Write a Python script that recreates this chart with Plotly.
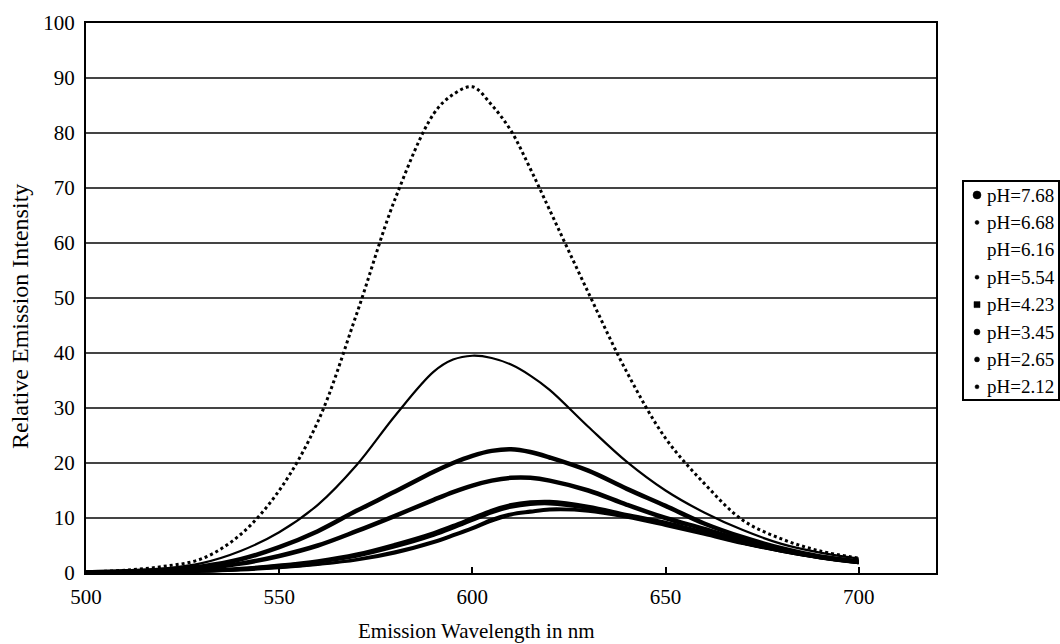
import plotly.graph_objects as go

wavelength = [500, 510, 520, 530, 540, 550, 560, 570, 580, 590, 595, 600,
              605, 610, 615, 620, 630, 640, 650, 660, 670, 680, 690, 700]

ph_labels = ["pH=7.68", "pH=6.68", "pH=6.16", "pH=5.54",
             "pH=4.23", "pH=3.45", "pH=2.65", "pH=2.12"]

ph_7_68 = [0.05, 0.1, 0.2, 0.3, 0.6, 1.0, 1.6, 2.5, 3.9, 5.8, 7.0, 8.3,
           9.8, 10.8, 11.3, 11.7, 11.4, 10.3, 8.8, 7.2, 5.4, 4.0, 2.8, 1.9]
ph_6_68 = [0.05, 0.1, 0.15, 0.3, 0.5, 0.9, 1.5, 2.3, 3.6, 5.5, 6.7, 8.0,
           9.4, 10.5, 11.0, 11.4, 11.2, 10.1, 8.6, 7.0, 5.3, 3.9, 2.7, 1.8]
ph_6_16 = [0.05, 0.1, 0.2, 0.35, 0.7, 1.3, 2.0, 3.1, 4.8, 6.9, 8.2, 9.6,
           11.0, 12.0, 12.5, 12.6, 11.8, 10.4, 9.0, 7.3, 5.5, 4.0, 2.8, 1.9]
ph_5_54 = [0.05, 0.1, 0.2, 0.4, 0.8, 1.4, 2.2, 3.4, 5.2, 7.3, 8.6, 10.0,
           11.4, 12.4, 12.9, 13.0, 12.1, 10.6, 9.2, 7.4, 5.6, 4.1, 2.9, 2.0]
ph_4_23 = [0.1, 0.2, 0.4, 0.8, 1.7, 3.1, 5.0, 7.6, 10.4, 13.3, 14.7, 15.9,
           16.8, 17.3, 17.3, 16.8, 15.0, 12.4, 10.0, 8.0, 5.9, 4.2, 2.9, 2.0]
ph_3_45 = [0.1, 0.3, 0.6, 1.2, 2.5, 4.7, 7.6, 11.3, 14.8, 18.4, 20.0, 21.3,
           22.2, 22.5, 22.0, 21.0, 18.6, 15.3, 12.2, 9.0, 6.5, 4.5, 3.0, 2.1]
ph_2_65 = [0.2, 0.4, 0.8, 1.8, 4.0, 7.4, 12.4, 19.6, 28.6, 36.6, 38.8, 39.5,
           39.1, 37.9, 35.9, 33.3, 26.6, 20.2, 15.0, 11.0, 7.8, 5.3, 3.7, 2.6]
ph_2_12 = [0.2, 0.5, 1.2, 2.6, 7.0, 15.0, 27.5, 47.0, 68.0, 83.5, 87.0, 88.4,
           85.1, 80.4, 73.5, 66.0, 51.0, 36.5, 24.5, 16.3, 9.6, 6.2, 4.0, 2.7]

series = [ph_7_68, ph_6_68, ph_6_16, ph_5_54, ph_4_23, ph_3_45, ph_2_65, ph_2_12]
line_widths = [2.5, 2.5, 3.5, 3.5, 4.5, 4.5, 2.2, 3.0]
line_dash = ["solid"] * 7 + ["dot"]
# legend marker sizes (diameter in px); 0 = no visible marker
legend_marker_size = [8, 4, 0, 4, 6, 6, 5, 4]
legend_marker_kind = ["circle", "circle", "circle", "circle", "rect", "circle", "circle", "circle"]

FONT = "Liberation Serif, Times New Roman, serif"

# plot area in pixels
W, H = 1060, 644
PL, PR, PT, PB = 86, 936, 23, 573


def px_x(px):
    return (px - PL) / (PR - PL)


def px_y(py):
    return (PB - py) / (PB - PT)


fig = go.Figure()
for i, ys in enumerate(series):
    fig.add_trace(go.Scatter(
        x=wavelength, y=ys, mode="lines", name=ph_labels[i],
        line=dict(color="black", width=line_widths[i], dash=line_dash[i], shape="spline"),
        showlegend=False, hoverinfo="skip"))

shapes = []
annotations = []
# legend box
shapes.append(dict(type="rect", xref="paper", yref="paper",
                   x0=px_x(963), x1=px_x(1059), y0=px_y(181), y1=px_y(400),
                   line=dict(color="black", width=2), fillcolor="white", layer="above"))
for i, lab in enumerate(ph_labels):
    cy = 195 + i * 27.4
    s = legend_marker_size[i]
    if s > 0:
        shapes.append(dict(type=legend_marker_kind[i], xref="paper", yref="paper",
                           x0=px_x(977 - s / 2), x1=px_x(977 + s / 2),
                           y0=px_y(cy + s / 2), y1=px_y(cy - s / 2),
                           line=dict(color="black", width=0.5), fillcolor="black",
                           layer="above"))
    annotations.append(dict(text=lab, xref="paper", yref="paper", x=px_x(985), y=px_y(cy),
                            xanchor="left", yanchor="middle", showarrow=False,
                            font=dict(family=FONT, size=19, color="black")))

annotations.append(dict(text="Emission Wavelength in nm", x=601, xref="x",
                        y=px_y(631), yref="paper", xanchor="center", yanchor="middle",
                        showarrow=False, font=dict(family=FONT, size=21, color="black")))
annotations.append(dict(text="Relative Emission Intensity", x=px_x(20), xref="paper",
                        y=px_y(317), yref="paper", xanchor="center", yanchor="middle",
                        textangle=-90, showarrow=False,
                        font=dict(family=FONT, size=24, color="black")))

fig.update_layout(
    width=W, height=H,
    margin=dict(l=PL, r=W - PR, t=PT, b=H - PB, autoexpand=False),
    paper_bgcolor="white", plot_bgcolor="white",
    font=dict(family=FONT, color="black"),
    showlegend=False,
    xaxis=dict(range=[500, 720], tickvals=[500, 550, 600, 650, 700],
               ticks="inside", ticklen=6, tickcolor="black", tickwidth=1.5,
               showgrid=False, zeroline=False,
               showline=True, linecolor="black", linewidth=2, mirror=True,
               tickfont=dict(family=FONT, size=21), ticklabelstandoff=4),
    yaxis=dict(range=[0, 100], tickvals=list(range(0, 101, 10)),
               ticks="", showgrid=True, gridcolor="#444", gridwidth=1.5,
               zeroline=False,
               showline=True, linecolor="black", linewidth=2, mirror=True,
               tickfont=dict(family=FONT, size=21), ticklabelstandoff=5),
    shapes=shapes,
    annotations=annotations,
)

fig.write_html("out.html")
